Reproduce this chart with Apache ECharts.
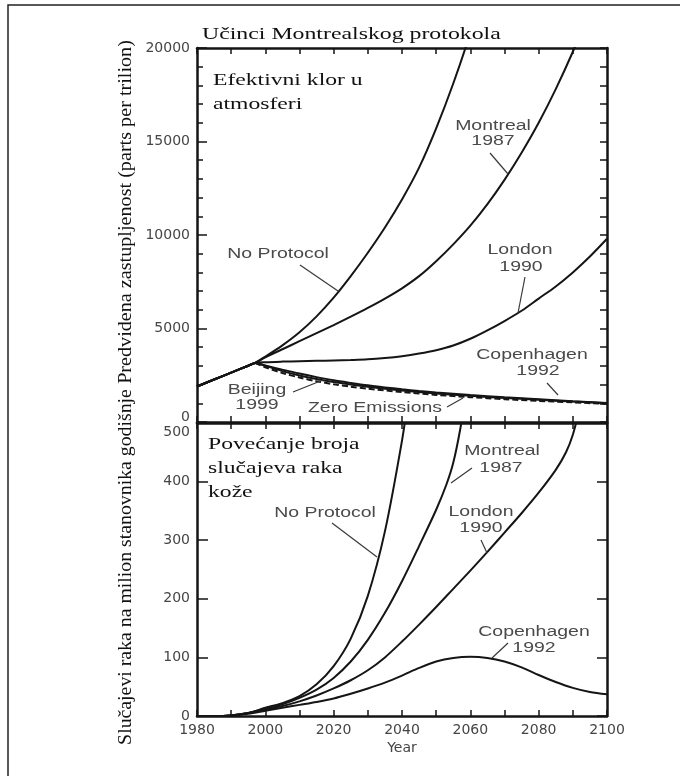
<!DOCTYPE html>
<html>
<head>
<meta charset="utf-8">
<script src="https://cdn.jsdelivr.net/npm/echarts@6/dist/echarts.min.js"></script>
<style>
html,body{margin:0;padding:0;background:#fff;}
#chart{width:680px;height:776px;}
</style>
</head>
<body>
<div id="chart"></div>
<script>
// ---------- DATA ----------
const xTicks = [1980, 2000, 2020, 2040, 2060, 2080, 2100];

// Top panel: effective chlorine (ppt)
const historyTop = [[1980,1900],[1985,2270],[1990,2640],[1995,3010],[1997,3160]];
const noProtocolTop = historyTop.concat([[2000,3500],[2005,4100],[2010,4800],[2015,5650],[2020,6650],[2025,7800],[2030,9050],[2035,10400],[2040,11900],[2045,13600],[2050,15700],[2055,18100],[2060,20800],[2065,23800]]);
const montrealTop = historyTop.concat([[2000,3460],[2005,3890],[2010,4320],[2015,4750],[2020,5180],[2025,5630],[2030,6100],[2035,6600],[2040,7150],[2045,7800],[2050,8600],[2055,9500],[2060,10500],[2065,11650],[2070,12950],[2075,14400],[2080,16000],[2085,17800],[2090,19800],[2095,22000]]);
const londonTop = historyTop.concat([[2000,3200],[2005,3230],[2010,3250],[2015,3270],[2020,3290],[2025,3315],[2030,3350],[2035,3420],[2040,3520],[2045,3660],[2050,3840],[2055,4090],[2060,4450],[2065,4900],[2070,5400],[2075,5950],[2080,6600],[2085,7250],[2090,8000],[2095,8850],[2100,9800]]);
const copenhagenTop = historyTop.concat([[2000,3020],[2005,2800],[2010,2590],[2015,2400],[2020,2230],[2025,2090],[2030,1960],[2035,1850],[2040,1750],[2045,1660],[2050,1580],[2060,1440],[2070,1320],[2080,1220],[2090,1110],[2100,1020]]);
const beijingTop = historyTop.concat([[1999,3060],[2005,2720],[2010,2490],[2015,2300],[2020,2140],[2025,2000],[2030,1880],[2040,1690],[2050,1530],[2060,1400],[2070,1290],[2080,1190],[2090,1090],[2100,1000]]);
const zeroEmissionsTop = [[1997,3160],[2000,2930],[2005,2620],[2010,2380],[2015,2180],[2020,2020],[2025,1890],[2030,1780],[2040,1600],[2050,1450],[2060,1330],[2070,1220],[2080,1130],[2090,1050],[2100,970]];

// Bottom panel: skin cancer cases per million per year
const noProtocolBottom = [[1980,0],[1985,0],[1990,1],[1995,5],[2000,14],[2005,22],[2010,34],[2015,54],[2020,85],[2025,132],[2030,205],[2035,315],[2040,470],[2042,550]];
const montrealBottom = [[1980,0],[1985,0],[1990,1],[1995,5],[2000,13],[2005,20],[2010,31],[2015,45],[2020,65],[2025,93],[2030,130],[2035,176],[2040,230],[2045,290],[2050,352],[2053,395],[2055,432],[2057,488],[2059,560]];
const londonBottom = [[1980,0],[1985,0],[1990,1],[1995,5],[2000,11],[2005,17],[2010,25],[2015,35],[2020,47],[2025,61],[2030,78],[2035,100],[2040,127],[2045,156],[2050,186],[2055,217],[2060,248],[2065,280],[2070,313],[2075,346],[2080,381],[2085,420],[2088,450],[2090,480],[2092,525]];
const copenhagenBottom = [[1980,0],[1985,0],[1990,1],[1995,4],[2000,9],[2005,14],[2010,19],[2015,24],[2020,30],[2025,38],[2030,47],[2035,57],[2040,69],[2045,82],[2050,93],[2055,99],[2060,101],[2065,99],[2070,93],[2075,83],[2080,70],[2085,58],[2090,48],[2095,41],[2100,37]];

// ---------- STYLE ----------
const AX = '#151515';
const TICKFONT = 'DejaVu Sans';
const tickColor = '#454545';
const SERIF = '"Liberation Serif", "Times New Roman", serif';
const SANS = '"Liberation Sans", Arial, sans-serif';

function xAxisDef(grid, pos, labels) {
  return {
    type: 'value', gridIndex: grid, position: pos, min: 1980, max: 2100, interval: 10,
    axisLine: {show: true, onZero: false, lineStyle: {color: AX, width: 2.5}},
    axisTick: {show: true, inside: true, length: 6, lineStyle: {color: AX, width: 1.5}},
    splitLine: {show: false},
    axisLabel: labels ? {
      show: true, margin: 7, fontFamily: TICKFONT, fontSize: 14, color: tickColor,
      formatter: v => xTicks.indexOf(v) >= 0 ? String(v) : ''
    } : {show: false},
    name: labels ? 'Year' : '', nameLocation: 'middle', nameGap: 25,
    nameTextStyle: {fontFamily: TICKFONT, fontSize: 14, color: tickColor}
  };
}

const line = (name, data, x, y, dashed) => ({
  name, type: 'line', xAxisIndex: x, yAxisIndex: y, data,
  smooth: 0.3, showSymbol: false, clip: true,
  lineStyle: {color: '#151515', width: 2, type: dashed ? [6, 3] : 'solid'}
});

function txt(text, x, y, opts) {
  opts = opts || {};
  return {
    type: 'text', x, y, scaleX: opts.sx || 1.39, rotation: opts.rot || 0, z: 100,
    style: {text, font: opts.font || ('14px ' + SANS), fill: opts.fill || '#4a4a4a',
            align: opts.align || 'center', verticalAlign: 'middle'}
  };
}
function seg(x1, y1, x2, y2) {
  return {type: 'line', z: 100, shape: {x1, y1, x2, y2}, style: {stroke: '#3a3a3a', lineWidth: 1.2}};
}

const option = {
  animation: false,
  backgroundColor: '#fff',
  grid: [
    {left: 197, top: 48, width: 410, height: 374},
    {left: 197, top: 423, width: 410, height: 293}
  ],
  xAxis: [
    xAxisDef(0, 'bottom', false),
    xAxisDef(0, 'top', false),
    xAxisDef(1, 'bottom', true),
    xAxisDef(1, 'top', false)
  ],
  yAxis: [
    {type: 'value', gridIndex: 0, position: 'left', min: 0, max: 20000, interval: 5000,
     axisLine: {show: true, lineStyle: {color: AX, width: 2.5}},
     axisTick: {show: true, inside: true, length: 10, lineStyle: {color: AX, width: 1.5}},
     minorTick: {show: true, splitNumber: 5, length: 6, lineStyle: {color: AX, width: 1.5}},
     splitLine: {show: false},
     axisLabel: {margin: 7, fontFamily: TICKFONT, fontSize: 14, color: tickColor,
       formatter: v => v === 0 ? '{lo|0}' : String(v),
       rich: {lo: {fontFamily: TICKFONT, fontSize: 14, color: tickColor, padding: [0, 0, 10, 0]}}}},
    {type: 'value', gridIndex: 0, position: 'right', min: 0, max: 20000, interval: 1000,
     axisLine: {show: true, lineStyle: {color: AX, width: 2.5}},
     axisTick: {show: true, inside: true, length: 7, lineStyle: {color: AX, width: 1.5}},
     splitLine: {show: false}, axisLabel: {show: false}},
    {type: 'value', gridIndex: 1, position: 'left', min: 0, max: 500, interval: 100,
     axisLine: {show: true, lineStyle: {color: AX, width: 2.5}},
     axisTick: {show: true, inside: true, length: 11, lineStyle: {color: AX, width: 1.5}},
     splitLine: {show: false},
     axisLabel: {margin: 7, fontFamily: TICKFONT, fontSize: 14, color: tickColor,
       formatter: v => v === 500 ? '{hi|500}' : String(v),
       rich: {hi: {fontFamily: TICKFONT, fontSize: 14, color: tickColor, padding: [18, 0, 0, 0]}}}},
    {type: 'value', gridIndex: 1, position: 'right', min: 0, max: 500, interval: 100,
     axisLine: {show: true, lineStyle: {color: AX, width: 2.5}},
     axisTick: {show: true, inside: true, length: 10, lineStyle: {color: AX, width: 1.5}},
     splitLine: {show: false}, axisLabel: {show: false}}
  ],
  series: [
    line('No Protocol', noProtocolTop, 0, 0),
    line('Montreal 1987', montrealTop, 0, 0),
    line('London 1990', londonTop, 0, 0),
    line('Copenhagen 1992', copenhagenTop, 0, 0),
    line('Beijing 1999', beijingTop, 0, 0),
    line('Zero Emissions', zeroEmissionsTop, 0, 0, true),
    line('No Protocol ', noProtocolBottom, 2, 2),
    line('Montreal 1987 ', montrealBottom, 2, 2),
    line('London 1990 ', londonBottom, 2, 2),
    line('Copenhagen 1992 ', copenhagenBottom, 2, 2)
  ],
  graphic: [
    {type: 'rect', z: 0, shape: {x: 8, y: 5, width: 700, height: 800}, style: {fill: 'none', stroke: '#222', lineWidth: 1.5}},
    // title
    txt('Učinci Montrealskog protokola', 202, 35, {font: '17px ' + SERIF, fill: '#111', align: 'left', sx: 1.4}),
    // y-axis titles
    txt('Predvidena zastupljenost (parts per trilion)', 126, 212, {font: '18px ' + SERIF, fill: '#111', rot: Math.PI / 2, sx: 1.12}),
    txt('Slučajevi raka na milion stanovnika godišnje', 126, 567, {font: '18px ' + SERIF, fill: '#111', rot: Math.PI / 2, sx: 1.1}),
    // panel captions
    txt('Efektivni klor u', 213, 81, {font: '17px ' + SERIF, fill: '#111', align: 'left'}),
    txt('atmosferi', 213, 105, {font: '17px ' + SERIF, fill: '#111', align: 'left'}),
    txt('Povećanje broja', 208, 445, {font: '17px ' + SERIF, fill: '#111', align: 'left'}),
    txt('slučajeva raka', 208, 469, {font: '17px ' + SERIF, fill: '#111', align: 'left'}),
    txt('kože', 208, 493, {font: '17px ' + SERIF, fill: '#111', align: 'left'}),
    // top panel annotations
    txt('Montreal', 493, 126), txt('1987', 493, 141), seg(490, 153, 508, 174),
    txt('No Protocol', 278, 254), seg(300, 265, 338, 291),
    txt('London', 520, 250), txt('1990', 521, 267), seg(525, 277, 518, 313),
    txt('Copenhagen', 532, 355), txt('1992', 538, 371), seg(547, 383, 558, 395),
    txt('Beijing', 257, 390), txt('1999', 257, 405), seg(293, 392, 323, 380),
    txt('Zero Emissions', 375, 408), seg(447, 407, 463, 398),
    // bottom panel annotations
    txt('No Protocol', 325, 513), seg(332, 523, 377, 557),
    txt('Montreal', 502, 451), txt('1987', 501, 468), seg(472, 468, 451, 483),
    txt('London', 481, 512), txt('1990', 481, 528), seg(481, 540, 487, 553),
    txt('Copenhagen', 534, 632), txt('1992', 534, 648), seg(508, 643, 492, 658)
  ]
};

const chart = echarts.init(document.getElementById('chart'), null, {renderer: 'canvas'});
chart.setOption(option);
</script>
</body>
</html>
